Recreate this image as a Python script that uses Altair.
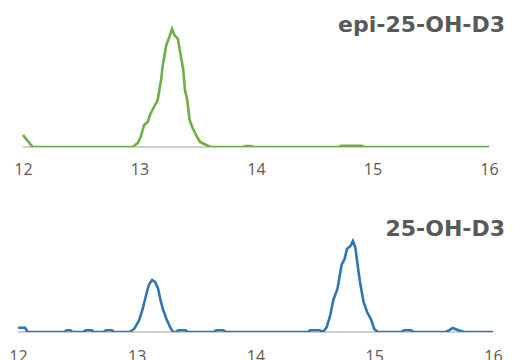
import altair as alt
import pandas as pd

# Retention time (min) and relative intensity
epi_x = [12.0, 12.083, 12.94, 12.985, 13.01, 13.04, 13.07, 13.09, 13.12, 13.156,
         13.185, 13.20, 13.23, 13.256, 13.28, 13.30, 13.33, 13.356, 13.376, 13.39,
         13.41, 13.43, 13.456, 13.485, 13.52, 13.556, 13.61, 13.89, 13.91, 13.96,
         13.98, 14.71, 14.73, 14.91, 14.93, 16.0]
epi_y = [12, 0, 0, 4, 10, 22, 25, 32, 39, 47,
         67, 82, 102, 110, 118, 112, 108, 90, 77, 57,
         47, 27, 19, 12, 5, 3, 0, 0, 1, 1,
         0, 0, 1.2, 1.2, 0, 0]

d3_x = [12.0, 12.06, 12.08, 12.39, 12.41, 12.44, 12.46, 12.55, 12.57, 12.62,
        12.64, 12.72, 12.74, 12.79, 12.81, 12.94, 12.98, 13.02, 13.05, 13.085,
        13.105, 13.13, 13.155, 13.18, 13.2, 13.22, 13.25, 13.28, 13.305, 13.33,
        13.35, 13.41, 13.43, 13.65, 13.67, 13.73, 13.75, 14.44, 14.46, 14.54,
        14.57, 14.60, 14.63, 14.655, 14.69, 14.725, 14.75, 14.77, 14.80, 14.82,
        14.84, 14.86, 14.88, 14.91, 14.94, 14.975, 15.0, 15.03, 15.23, 15.25,
        15.31, 15.33, 15.6, 15.63, 15.66, 15.71, 15.76, 16.0]
d3_y = [4.3, 4.3, 0, 0, 1.7, 1.7, 0, 0, 1.7, 1.7,
        0, 0, 1.7, 1.7, 0, 0, 3.3, 11.7, 23, 40,
        48, 52, 50, 43, 32, 23, 13, 5, 0, 0,
        1.7, 1.7, 0, 0, 1.7, 1.7, 0, 0, 1.7, 1.7,
        0, 5, 17, 32, 43, 67, 73, 83, 86, 91,
        85, 67, 50, 30, 20, 12, 3, 0, 0, 1.7,
        1.7, 0, 0, 1.7, 4, 1.7, 0, 0]

tick_values = [12, 13, 14, 15, 16]
titles = ["epi-25-OH-D3", "25-OH-D3"]
colors = ["#70AD47", "#2E75B6"]

W = 475


def panel(xs, ys, title, color, xdomain, height, ymax, title_y, label_pad):
    xscale = alt.Scale(domain=xdomain, nice=False, zero=False)
    yscale = alt.Scale(domain=[0, ymax], nice=False)
    xaxis = alt.Axis(values=tick_values, domain=False, ticks=False, tickSize=0,
                     grid=False, labelPadding=label_pad, labelFontSize=16,
                     labelColor="#595959", labelFont="Open Sans", title=None,
                     labelFlush=False, format="d")
    df = pd.DataFrame({"t": xs, "v": ys})
    rule_df = pd.DataFrame({"a": [tick_values[0]], "b": [tick_values[-1]], "z": [0]})
    rule = alt.Chart(rule_df).mark_rule(color="#BFBFBF", strokeWidth=1.5).encode(
        x=alt.X("a:Q", scale=xscale, axis=xaxis),
        x2="b:Q",
        y=alt.Y("z:Q", scale=yscale, axis=None),
    )
    line = alt.Chart(df).mark_line(color=color, strokeWidth=2.6, clip=True).encode(
        x=alt.X("t:Q", scale=xscale, axis=xaxis),
        y=alt.Y("v:Q", scale=yscale, axis=None),
    )
    txt = alt.Chart(pd.DataFrame({"label": [title]})).mark_text(
        align="right", baseline="middle", font="DejaVu Sans", fontSize=22,
        fontWeight="bold", color="#595959"
    ).encode(x=alt.value(W + 12), y=alt.value(title_y), text="label:N")
    return alt.layer(rule, line, txt).properties(width=W, height=height)


top = panel(epi_x, epi_y, titles[0], colors[0],
            [12 - 5 / 116.5, 16 + 4 / 116.5], 139, 139, 17, 14.5)
bottom = panel(d3_x, d3_y, titles[1], colors[1],
               [12, 16], 140, 140, 37, 16)

chart = alt.vconcat(top, bottom, spacing=14).properties(padding=0).configure_view(stroke=None)

chart.save("out.html", embed_options={"renderer": "svg", "actions": False})
